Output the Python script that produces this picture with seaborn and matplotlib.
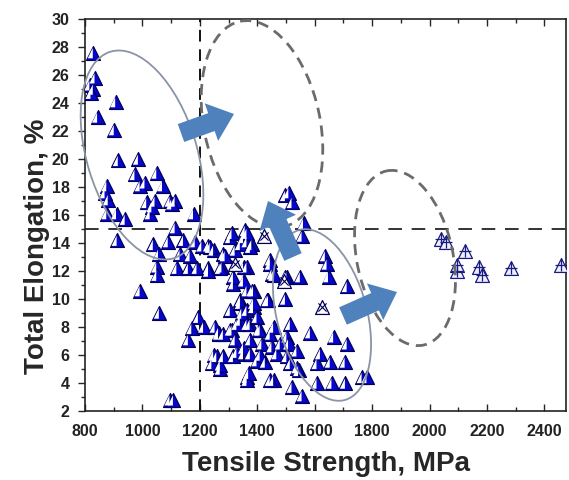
import matplotlib
matplotlib.use("Agg")
import matplotlib.pyplot as plt
import seaborn as sns
import pandas as pd
from matplotlib.patches import Ellipse, FancyArrow
from matplotlib.transforms import Affine2D
from matplotlib.ticker import MultipleLocator

# tensile strength (MPa) and total elongation (%)
ts = [829, 835, 817, 829, 821, 907, 844, 902, 916, 986, 974, 1009, 1050, 992, 1070,
      876, 881, 870, 1015, 1044, 1096, 1114, 876, 910, 940, 1027, 1178, 1114, 1102,
      1033, 912, 1038, 1090, 1143, 1184, 1230, 1056, 1131, 1166, 1282, 1323, 1352,
      1306, 1381, 1050, 1120, 1160, 1190, 1230, 1277, 1364, 1050, 1317, 1387, 992,
      1341, 1059, 1195, 1172, 1160, 1265, 1306, 1341, 1364, 1259, 1271, 1364, 1096,
      1108,
      1498, 1521, 1561, 1358, 1364, 1556, 1445, 1352, 1451, 1503, 1550, 1637, 1643,
      1648, 1713, 1498, 1364, 1387, 1439, 1515, 1585, 1375, 1410, 1457, 1503, 1538,
      1666, 1713, 1620, 1654, 1706, 1608, 1765, 1782, 1457, 1544, 1521, 1556, 1608,
      1660, 1707, 1364, 1370, 1399, 1428, 1352,
      1242, 1271, 1248, 1265, 1312, 1323, 1341, 1346, 1364, 1387, 1399, 1405, 1376,
      1416, 1445, 1451, 1468, 1480, 1509, 1434, 1352, 1376, 1410, 1317, 1329, 1282,
      1445, 1503, 1515, 1538, 1213, 1253, 1282, 1306, 1329, 1317, 1352, 1381, 1445,
      1457, 1498, 1230, 1271, 1248, 1288, 1341, 1376, 1312, 1364, 1236, 1207, 1510]
el = [27.6, 25.8, 25.3, 25.0, 24.7, 24.1, 23.0, 22.1, 19.9, 20.0, 18.9, 18.3, 19.0, 18.1, 18.1,
      18.1, 17.1, 17.6, 16.9, 17.0, 17.0, 17.0, 16.1, 16.1, 15.7, 16.1, 16.1, 15.1, 16.8,
      16.6, 14.2, 13.9, 14.1, 14.2, 14.1, 13.8, 13.2, 13.2, 13.1, 13.2, 13.5, 14.4,
      14.4, 13.9, 12.3, 12.2, 12.2, 12.2, 12.2, 12.3, 12.3, 11.7, 11.1, 10.6, 10.6,
      9.9, 9.0, 8.7, 7.9, 7.1, 7.6, 7.8, 8.5, 9.2, 5.9, 5.0, 4.4, 2.8,
      2.8,
      17.4, 16.9, 15.4, 14.9, 14.1, 14.5, 12.8, 12.3, 11.8, 11.6, 11.6, 13.1, 12.5,
      11.6, 10.9, 10.0, 10.6, 9.4, 9.9, 8.2, 7.6, 8.2, 7.8, 8.0, 7.3, 6.3,
      7.3, 6.8, 6.1, 5.5, 5.5, 5.4, 4.4, 4.4, 4.2, 4.9, 3.7, 3.1, 4.0,
      4.0, 4.0, 4.2, 4.7, 5.6, 5.5, 6.1,
      5.4, 5.3, 6.0, 7.5, 7.8, 7.1, 9.7, 9.0, 8.2, 9.7, 8.7, 7.8, 7.1,
      6.8, 7.5, 6.6, 6.1, 6.8, 6.8, 9.9, 6.5, 6.1, 6.0, 5.9, 6.2, 5.9,
      4.2, 5.9, 5.4, 5.1, 8.0, 8.0, 7.5, 9.2, 8.2, 11.6, 11.3, 10.6, 12.5,
      11.7, 11.6, 12.0, 12.2, 13.5, 13.1, 13.9, 13.7, 14.7, 14.7, 13.7, 13.8, 17.6]

# crossed (hollow) triangles inside the main cloud
ts_cross = [1323, 1422, 1492, 1625]
el_cross = [12.5, 14.5, 11.3, 9.4]

# high strength group on the right
ts_hi = [2038, 2056, 2124, 2096, 2096, 2172, 2183, 2282, 2457]
el_hi = [14.3, 14.1, 13.4, 12.0, 12.4, 12.3, 11.7, 12.2, 12.4]

main = pd.DataFrame({"TS": ts, "EL": el})
cross = pd.DataFrame({"TS": ts_cross, "EL": el_cross})
hi = pd.DataFrame({"TS": ts_hi, "EL": el_hi})

sns.set_style("ticks")
plt.rcParams["font.family"] = ["Liberation Sans", "DejaVu Sans"]

W, H = 569, 480
fig = plt.figure(figsize=(W / 100, H / 100), dpi=100)
ax = fig.add_axes([85 / W, 1 - 411 / H, (566 - 85) / W, (411 - 19) / H])
px = Affine2D().scale(1 / W, -1 / H).translate(0, 1) + fig.transFigure

blue = "#0606cc"
navy = "#00005a"
S = 100
# left half of the triangle, painted white to give the half-filled look
half = [(-0.8, -0.82), (-0.08, 0.66), (-0.08, -0.82)]

sns.scatterplot(data=main, x="TS", y="EL", ax=ax, marker="^", s=S,
                color=blue, edgecolor=navy, linewidth=0.9, zorder=3)
sns.scatterplot(data=main, x="TS", y="EL", ax=ax, marker=half, s=S * 0.82 ** 2,
                color="white", edgecolor="none", linewidth=0, zorder=3)

sns.scatterplot(data=cross, x="TS", y="EL", ax=ax, marker="^", s=S,
                color="white", edgecolor=navy, linewidth=0.9, zorder=4)
sns.scatterplot(data=cross, x="TS", y="EL", ax=ax, marker="x", s=35,
                color=navy, linewidth=0.8, zorder=4)

sns.scatterplot(data=hi, x="TS", y="EL", ax=ax, marker="^", s=S,
                color="#eef0ff", edgecolor="#1a1a80", linewidth=0.9, zorder=4)
sns.scatterplot(data=hi, x="TS", y="EL", ax=ax, marker="+", s=80,
                color="#1a1a80", linewidth=0.9, zorder=4)

ax.axvline(1200, color="#111111", lw=1.4, ls=(0, (6, 4)), zorder=2)
ax.axhline(15, color="#333333", lw=1.4, ls=(0, (7, 5)), zorder=2)

# hand drawn guide shapes (in picture pixels)
for cx, cy, w, h, ang in [(142, 155, 110, 216, 17), (322, 315, 90, 176, 15)]:
    ax.add_patch(Ellipse((cx, cy), w, h, angle=-ang, transform=px, fill=False,
                         ec="#8a94a6", lw=1.3, zorder=5, clip_on=False))
for cx, cy, w, h, ang in [(262, 124, 116, 210, 12), (405, 258, 96, 178, 12)]:
    ax.add_patch(Ellipse((cx, cy), w, h, angle=-ang, transform=px, fill=False,
                         ec="#6b6b6b", lw=2.0, ls=(0, (4, 2.5)), zorder=5, clip_on=False))
for x0, y0, x1, y1 in [(181, 133, 234, 114), (293, 257, 268, 201), (343, 316, 397, 292)]:
    ax.add_patch(FancyArrow(x0, y0, x1 - x0, y1 - y0, width=19, head_width=40,
                            head_length=24, length_includes_head=True, transform=px,
                            color="#4f81bd", lw=0, zorder=6, clip_on=False))

ax.set_xlim(800, 2475)
ax.set_ylim(2, 30)
ax.xaxis.set_major_locator(MultipleLocator(200))
ax.xaxis.set_minor_locator(MultipleLocator(100))
ax.yaxis.set_major_locator(MultipleLocator(2))
ax.yaxis.set_minor_locator(MultipleLocator(1))
ax.tick_params(axis="x", which="both", direction="in", top=True, pad=9)
ax.tick_params(axis="y", which="both", direction="out", pad=6)
ax.tick_params(which="major", length=5, width=1, labelsize=11.5, labelcolor="#222222")
ax.tick_params(which="minor", length=3, width=1)
for lab in ax.get_xticklabels() + ax.get_yticklabels():
    lab.set_fontweight("bold")
for sp in ax.spines.values():
    sp.set_linewidth(1.2)
    sp.set_color("#222222")

ax.set_xlabel("Tensile Strength, MPa", fontsize=20, fontweight="bold", labelpad=9)
ax.set_ylabel("Total Elongation, %", fontsize=20, fontweight="bold")
ax.yaxis.set_label_coords(-0.072, 0.42)

fig.savefig("out.png", dpi=100)
